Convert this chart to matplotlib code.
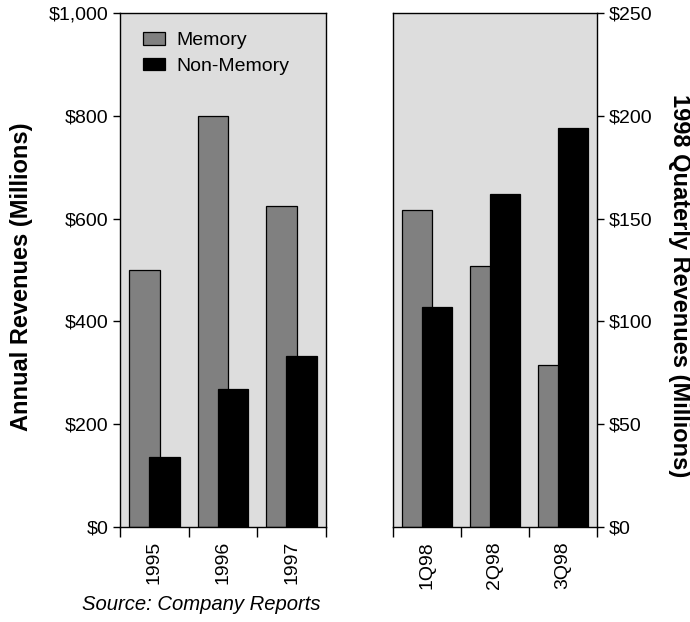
import numpy as np
import matplotlib.pyplot as plt
from matplotlib.ticker import FuncFormatter, FixedLocator

plt.rcParams['font.family'] = ['Liberation Sans', 'DejaVu Sans']

# Annual revenues ($M)
years = ['1995', '1996', '1997']
annual_memory = [500, 800, 624]
annual_nonmemory = [137, 268, 333]

# 1998 quarterly revenues ($M)
quarters = ['1Q98', '2Q98', '3Q98']
qtr_memory = [154, 127, 79]
qtr_nonmemory = [107, 162, 194]

mem_color = '#808080'
nonmem_color = '#000000'
bg = '#dddddd'
fs = 14

fig = plt.figure(figsize=(6.9, 6.22), dpi=100)
ax1 = fig.add_axes([120 / 690, 95 / 622, 206 / 690, 514 / 622])
ax2 = fig.add_axes([392.7 / 690, 95 / 622, 204 / 690, 514 / 622])

dollars = FuncFormatter(lambda v, p: '${:,.0f}'.format(v))


def draw(ax, labels, mem, nonmem, ymax, ystep):
    x = np.arange(len(labels))
    w = 0.445
    off = 0.147
    ax.bar(x - off, mem, w, color=mem_color, edgecolor='black', linewidth=0.9,
           label='Memory', zorder=2)
    ax.bar(x + off, nonmem, w, color=nonmem_color, edgecolor='black', linewidth=0.9,
           label='Non-Memory', zorder=3)
    ax.set_facecolor(bg)
    ax.set_xlim(-0.5, len(labels) - 0.5)
    ax.set_ylim(0, ymax)
    ax.set_yticks(np.arange(0, ymax + 1, ystep))
    ax.yaxis.set_major_formatter(dollars)
    # category boundaries get tick marks, labels sit at the centres
    ax.xaxis.set_major_locator(FixedLocator(np.arange(-0.5, len(labels), 1.0)))
    ax.xaxis.set_major_formatter(FuncFormatter(lambda v, p: ''))
    ax.xaxis.set_minor_locator(FixedLocator(x))
    ax.set_xticklabels(labels, minor=True, rotation=90, fontsize=fs)
    ax.tick_params(axis='x', which='minor', length=0, pad=10)
    ax.tick_params(axis='both', which='major', direction='out', length=5,
                   width=1, labelsize=fs, color='black')
    ax.tick_params(axis='x', which='major', length=7)
    for s in ax.spines.values():
        s.set_linewidth(1)
        s.set_color('black')


draw(ax1, years, annual_memory, annual_nonmemory, 1000, 200)
draw(ax2, quarters, qtr_memory, qtr_nonmemory, 250, 50)

ax2.yaxis.tick_right()
ax2.yaxis.set_label_position('right')

ax1.set_ylabel('Annual Revenues (Millions)', fontsize=17, fontweight='bold',
               va='center', ha='center')
ax1.yaxis.set_label_coords(-0.48, 0.486)
ax2.set_ylabel('1998 Quaterly Revenues (Millions)', fontsize=17, fontweight='bold',
               rotation=-90, va='center', ha='center')
ax2.yaxis.set_label_coords(1.405, 0.47)

ax1.legend(loc='upper left', bbox_to_anchor=(0.01, 1.004), frameon=False,
           fontsize=fs, handlelength=1.1, handleheight=0.6, handletextpad=0.6,
           labelspacing=0.45, borderpad=0.6)

fig.text(82 / 690, 1 - 605 / 622, 'Source: Company Reports', fontsize=14.6,
         style='italic', va='center', ha='left')

fig.savefig('out.png', dpi=100)
